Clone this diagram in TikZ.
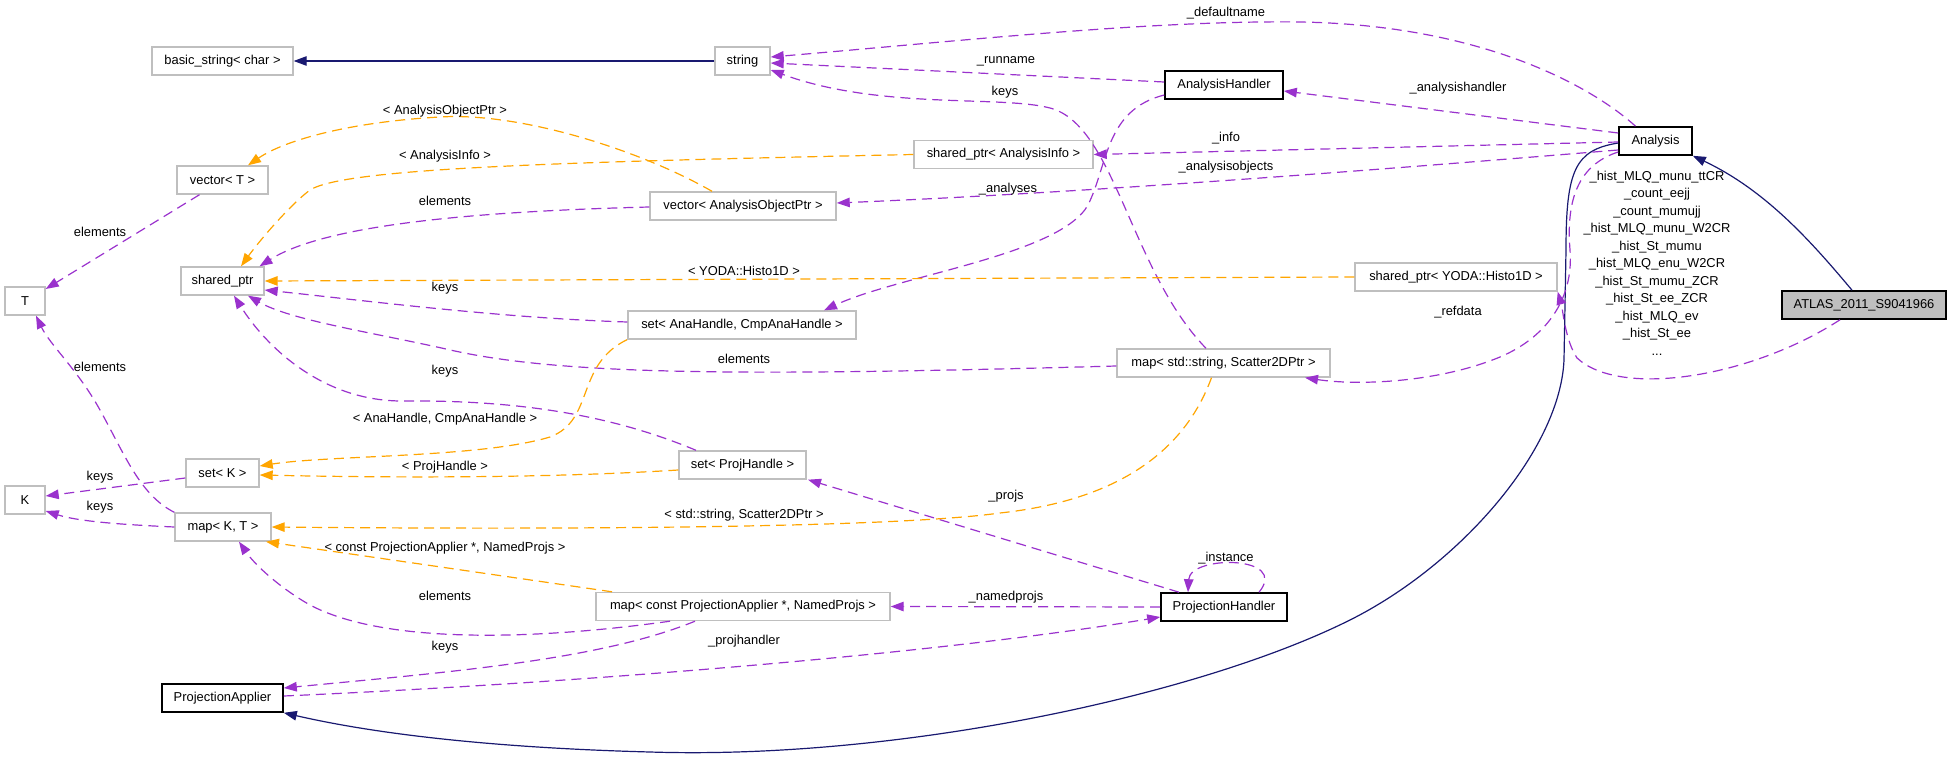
\documentclass[tikz,border=0pt]{standalone}
\usepackage{fontspec}
\setmainfont{Liberation Sans}
\usetikzlibrary{arrows.meta}
\definecolor{purp}{HTML}{9A32CD}
\definecolor{orng}{HTML}{FFA500}
\definecolor{mblue}{HTML}{191970}
\definecolor{boxgray}{HTML}{BFBFBF}
\tikzset{
  base/.style={minimum height=28pt, inner sep=0pt, fill=white, font=\fontsize{12.9}{15}\selectfont},
  cls/.style={base, draw=black, line width=1.6pt},
  tpl/.style={base, draw=boxgray, line width=1.4pt},
  tip/.style={-{Triangle[length=13pt,width=9.5pt]}},
  mem/.style={tip, draw=purp, line width=1.2pt, dash pattern=on 10pt off 6pt},
  inst/.style={tip, draw=orng, line width=1.2pt, dash pattern=on 10pt off 6pt},
  inh/.style={tip, draw=mblue, line width=1.2pt},
  lbl/.style={inner sep=0pt, font=\fontsize{12.9}{15}\selectfont}
}
\begin{document}
\begin{tikzpicture}[x=1pt,y=-1pt]
\useasboundingbox (0,0) rectangle (1952,759);
% nodes
\node[tpl, minimum width=141pt] (bstr) at (222.5,61) {basic\_string< char >};
\node[tpl, minimum width=91pt] (vecT) at (222.5,180) {vector< T >};
\node[tpl, minimum width=83pt] (sp) at (222.5,281) {shared\_ptr};
\node[tpl, minimum width=40pt] (T) at (25,301) {T};
\node[tpl, minimum width=73pt] (setK) at (222.5,473) {set< K >};
\node[tpl, minimum width=40pt] (K) at (25,500) {K};
\node[tpl, minimum width=96pt] (mapKT) at (223,527) {map< K, T >};
\node[cls, minimum width=121pt] (pa) at (222.5,698) {ProjectionApplier};
\node[tpl, minimum width=55pt] (str) at (742.5,61) {string};
\node[cls, minimum width=118pt] (ah) at (1224,85) {AnalysisHandler};
\node[tpl, minimum width=179pt] (spai) at (1003.5,154.5) {shared\_ptr< AnalysisInfo >};
\node[tpl, minimum width=186pt] (vaop) at (743,206) {vector< AnalysisObjectPtr >};
\node[tpl, minimum width=228pt] (setah) at (742,325) {set< AnaHandle, CmpAnaHandle >};
\node[tpl, minimum width=213pt] (mapss) at (1223.5,363) {map< std::string, Scatter2DPtr >};
\node[tpl, minimum width=127pt] (setph) at (742.5,465) {set< ProjHandle >};
\node[tpl, minimum width=294pt] (mapcpa) at (743,606.5) {map< const ProjectionApplier *, NamedProjs >};
\node[cls, minimum width=126pt] (ph) at (1224,607) {ProjectionHandler};
\node[cls, minimum width=73pt] (ana) at (1655.5,141) {Analysis};
\node[tpl, minimum width=202pt] (yoda) at (1456,277) {shared\_ptr< YODA::Histo1D >};
\node[cls, minimum width=164pt, fill=boxgray] (atlas) at (1864,305) {ATLAS\_2011\_S9041966};

% inheritance
\draw[inh] (str.west) -- (bstr.east);
\draw[inh] ([yshift=-2pt]ana.west) .. controls (1575,150) and (1566,170) .. (1566,250) -- (1564,360)
  .. controls (1560,450) and (1460,565) .. (1350,620) .. controls (1200,695) and (900,760) .. (650,752)
  .. controls (500,748) and (380,735) .. (pa.south east);
\draw[inh] ([xshift=-12pt]atlas.north) .. controls (1810,240) and (1765,190) .. (ana.south east);

% members
\draw[mem] ([xshift=-20pt]ana.north) .. controls (1590,85) and (1480,25) .. (1300,22)
  .. controls (1150,20) and (950,42) .. ([yshift=4pt]str.east);
\draw[mem] ([yshift=3pt]ah.west) -- ([yshift=-2pt]str.east);
\draw[mem] ([xshift=-17.5pt]mapss.north) .. controls (1130,270) and (1115,125) .. (1050,108)
  .. controls (1000,95) and (880,110) .. ([yshift=-9pt]str.east);
\draw[mem] ([yshift=8pt]ana.west) -- ([yshift=-6pt]ah.east);
\draw[mem] ([yshift=-1pt]ana.west) -- (spai.east);
\draw[mem] ([yshift=-9pt]ana.west) .. controls (1400,168) and (1100,192) .. ([yshift=3pt]vaop.east);
\draw[mem] ([yshift=-10pt]ah.west) .. controls (1105,110) and (1108,165) .. (1088,205)
  .. controls (1060,255) and (900,275) .. ([xshift=82pt]setah.north);
\draw[mem] ([yshift=-1pt]vaop.west) .. controls (450,212) and (320,228) .. ([xshift=37pt]sp.north);
\draw[mem] ([xshift=-23pt]vecT.south) -- ([yshift=12pt]T.east);
\draw[mem] ([yshift=3pt]setah.west) .. controls (500,318) and (360,300) .. ([yshift=-9pt]sp.east);
\draw[mem] ([yshift=-3pt]mapss.west) .. controls (750,376) and (560,376) .. (446,349)
  .. controls (370,332) and (290,320) .. ([xshift=25.5pt]sp.south);
\draw[mem] ([xshift=-46.5pt]setph.north) .. controls (600,410) and (500,400) .. (400,401)
  .. controls (320,400) and (265,345) .. ([xshift=11.5pt]sp.south);
\draw[mem] ([yshift=-5pt]setK.west) -- ([yshift=4pt]K.east);
\draw[mem] (mapKT.west) .. controls (130,525) and (80,522) .. ([yshift=-11pt]K.east);
\draw[mem] (mapKT.north west) .. controls (140,495) and (125,455) .. (100,410)
  .. controls (78,370) and (50,345) .. ([xshift=11pt]T.south);
\draw[mem] ([xshift=-73pt]mapcpa.south) .. controls (520,642) and (380,642) .. (310,605)
  .. controls (280,588) and (255,565) .. ([xshift=16pt]mapKT.south);
\draw[mem] ([xshift=-48pt]mapcpa.south) .. controls (600,660) and (450,672) .. ([yshift=10pt]pa.east);
\draw[mem] ([yshift=2pt]pa.east) .. controls (600,682) and (950,652) .. ([yshift=-10pt]ph.west);
\draw[mem] (ph.west) -- (mapcpa.east);
\draw[mem] ([xshift=-45pt]ph.north) -- ([xshift=65.5pt]setph.south);
\draw[mem] ([xshift=35pt]ph.north) .. controls (1290,555) and (1190,555) .. ([xshift=-36pt]ph.north);
\draw[mem] ([xshift=-24pt]atlas.south) .. controls (1750,378) and (1620,398) .. (1577,358)
  .. controls (1565,340) and (1563,310) .. (yoda.south east);
\draw[mem] ([yshift=-11pt]ana.west) .. controls (1578,165) and (1566,200) .. (1570,250)
  .. controls (1574,300) and (1545,338) .. (1500,357) .. controls (1440,382) and (1360,386) .. ([xshift=81.5pt]mapss.south);

% template instances
\draw[inst] (spai.west) .. controls (560,162) and (345,168) .. (310,190)
  .. controls (290,205) and (260,240) .. ([xshift=18.5pt]sp.north);
\draw[inst] ([xshift=-31pt]vaop.north) .. controls (640,150) and (520,112) .. (440,117)
  .. controls (350,122) and (285,140) .. ([xshift=25.5pt]vecT.north);
\draw[inst] (yoda.west) -- (sp.east);
\draw[inst] ([xshift=-115pt]setah.south) .. controls (575,365) and (595,420) .. (550,437)
  .. controls (480,458) and (330,455) .. ([yshift=7pt]setK.east);
\draw[inst] ([yshift=-5pt]setph.west) .. controls (550,478) and (400,478) .. ([yshift=-2pt]setK.east);
\draw[inst] ([xshift=-12pt]mapss.south) .. controls (1185,450) and (1120,500) .. (1000,513)
  .. controls (900,527) and (600,530) .. (mapKT.east);
\draw[inst] ([xshift=-131pt]mapcpa.north) -- ([xshift=43pt]mapKT.south);

% labels
\node[lbl] (l1) at (1226,13) {\_defaultname};
\node[lbl] (l2) at (1006,61) {\_runname};
\node[lbl] (l3) at (1005,92) {keys};
\node[lbl] (l4) at (1458,88) {\_analysishandler};
\node[lbl] (l5) at (1226,138) {\_info};
\node[lbl] (l6) at (1226,167) {\_analysisobjects};
\node[lbl] (l7) at (1008,189) {\_analyses};
\node[lbl] (l8) at (445,111) {< AnalysisObjectPtr >};
\node[lbl] (l9) at (445,156) {< AnalysisInfo >};
\node[lbl] (l10) at (445,201) {elements};
\node[lbl] (l11) at (100,232) {elements};
\node[lbl] (l12) at (744,271) {< YODA::Histo1D >};
\node[lbl] (l13) at (445,288) {keys};
\node[lbl] (l14) at (744,359) {elements};
\node[lbl] (l15) at (445,371) {keys};
\node[lbl] (l16) at (100,367) {elements};
\node[lbl] (l17) at (445,419) {< AnaHandle, CmpAnaHandle >};
\node[lbl] (l18) at (445,467) {< ProjHandle >};
\node[lbl] (l19) at (100,477) {keys};
\node[lbl] (l20) at (100,507) {keys};
\node[lbl] (l21) at (744,515) {< std::string, Scatter2DPtr >};
\node[lbl] (l22) at (445,548) {< const ProjectionApplier *, NamedProjs >};
\node[lbl] (l23) at (445,596) {elements};
\node[lbl] (l24) at (445,647) {keys};
\node[lbl] (l25) at (1006,496) {\_projs};
\node[lbl] (l26) at (1226,558) {\_instance};
\node[lbl] (l27) at (1006,597) {\_namedprojs};
\node[lbl] (l28) at (744,641) {\_projhandler};
\node[lbl] (l29) at (1458,312) {\_refdata};
\node[lbl, align=center, font=\fontsize{12.9}{17.5}\selectfont] (l30) at (1657,263) {\_hist\_MLQ\_munu\_ttCR\\\_count\_eejj\\\_count\_mumujj\\\_hist\_MLQ\_munu\_W2CR\\\_hist\_St\_mumu\\\_hist\_MLQ\_enu\_W2CR\\\_hist\_St\_mumu\_ZCR\\\_hist\_St\_ee\_ZCR\\\_hist\_MLQ\_ev\\\_hist\_St\_ee\\...};
\end{tikzpicture}
\end{document}
